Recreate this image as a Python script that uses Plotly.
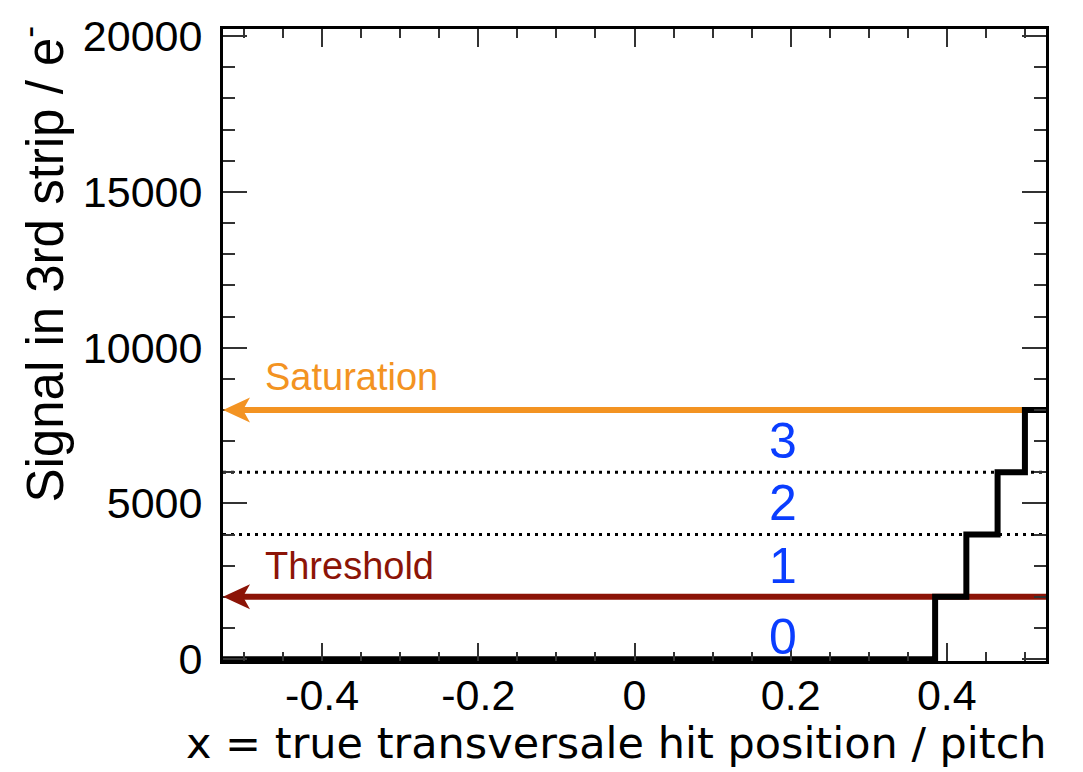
import plotly.graph_objects as go

# Step response of the strip read-out (x in pitch units, signal in electrons)
step_edges = [-0.527, 0.385, 0.425, 0.465, 0.5, 0.527]
step_levels = [0, 2000, 4000, 6000, 8000, 8000]

threshold = 2000
saturation = 8000
level_bounds = [4000, 6000]

adc_labels = ["0", "1", "2", "3"]
adc_label_y = [700, 3000, 5000, 7000]
adc_label_x = 0.19

x_range = [-0.527, 0.527]
y_range = [-60, 20230]

FONT = "Liberation Sans, Arial, Helvetica, sans-serif"
WIDE_FONT = "DejaVu Sans, Verdana, sans-serif"
ORANGE = "#F39322"
DARKRED = "#8C1407"
BLUE = "#0A3DFF"

fig = go.Figure()

# dotted ADC level boundaries
for yb in level_bounds:
    fig.add_trace(go.Scatter(x=x_range, y=[yb, yb], mode="lines",
                             line=dict(color="black", width=3, dash="3px,5px"),
                             hoverinfo="skip", showlegend=False))

# threshold and saturation lines
fig.add_trace(go.Scatter(x=[x_range[0] + 0.02, x_range[1]], y=[threshold, threshold], mode="lines",
                         line=dict(color=DARKRED, width=6), showlegend=False))
fig.add_trace(go.Scatter(x=[x_range[0] + 0.02, step_edges[4]], y=[saturation, saturation],
                         mode="lines", line=dict(color=ORANGE, width=6), showlegend=False))

# staircase signal
fig.add_trace(go.Scatter(x=step_edges, y=step_levels, mode="lines",
                         line=dict(color="black", width=6, shape="hv"),
                         showlegend=False))

# swept-back arrow heads at the left axis (sized in pixels, anchored in data)
head_path = "M0,0 L27,12.5 L20,0 L27,-12.5 Z"
for yv, col in [(saturation, ORANGE), (threshold, DARKRED)]:
    fig.add_shape(type="path", xref="x", yref="y", xsizemode="pixel", ysizemode="pixel",
                  xanchor=x_range[0], yanchor=yv, path=head_path,
                  fillcolor=col, line=dict(width=0))

fig.add_annotation(x=-0.4758, y=saturation + 1050, xref="x", yref="y", text="Saturation",
                   showarrow=False, xanchor="left", yanchor="middle",
                   font=dict(family=FONT, size=38, color=ORANGE))
fig.add_annotation(x=-0.4758, y=threshold + 1000, xref="x", yref="y", text="Threshold",
                   showarrow=False, xanchor="left", yanchor="middle",
                   font=dict(family=FONT, size=38, color=DARKRED))

for lab, yv in zip(adc_labels, adc_label_y):
    fig.add_annotation(x=adc_label_x, y=yv, xref="x", yref="y", text=lab,
                       showarrow=False, xanchor="center", yanchor="middle",
                       font=dict(family=FONT, size=50, color=BLUE))

# axis titles, aligned to the axis ends
fig.add_annotation(x=1.004, y=-0.1305, xref="paper", yref="paper",
                   text="x = true transversale hit position / pitch",
                   showarrow=False, xanchor="right", yanchor="middle",
                   font=dict(family=WIDE_FONT, size=43, color="black"))
fig.add_annotation(x=-0.2206, y=0.628, xref="paper", yref="paper",
                   text="Signal in 3rd strip / e<sup>-</sup>", textangle=-90,
                   showarrow=False, xanchor="center", yanchor="middle",
                   font=dict(family=FONT, size=51, color="black"))

axis_common = dict(showline=True, mirror="allticks", linewidth=3, linecolor="black",
                   showgrid=False, zeroline=False, ticks="inside", tickcolor="#333",
                   tickwidth=2, tickfont=dict(family=FONT, size=43, color="black"))

fig.update_xaxes(range=x_range, tickvals=[-0.4, -0.2, 0, 0.2, 0.4],
                 ticktext=["-0.4", "-0.2", "0", "0.2", "0.4"], ticklen=18,
                 ticklabelstandoff=-6,
                 minor=dict(dtick=0.05, tick0=0, ticks="inside", ticklen=9,
                            tickcolor="#333", tickwidth=2),
                 **axis_common)
fig.update_yaxes(range=y_range, tickvals=[0, 5000, 10000, 15000, 20000],
                 ticktext=["0", "5000", "10000", "15000", "20000"], ticklen=24,
                 ticklabelstandoff=9,
                 minor=dict(dtick=1000, tick0=0, ticks="inside", ticklen=12,
                            tickcolor="#333", tickwidth=2),
                 **axis_common)

fig.update_layout(width=1083, height=772, plot_bgcolor="white", paper_bgcolor="white",
                  margin=dict(l=223, r=37, t=23, b=111), showlegend=False)

fig.write_html("out.html")
